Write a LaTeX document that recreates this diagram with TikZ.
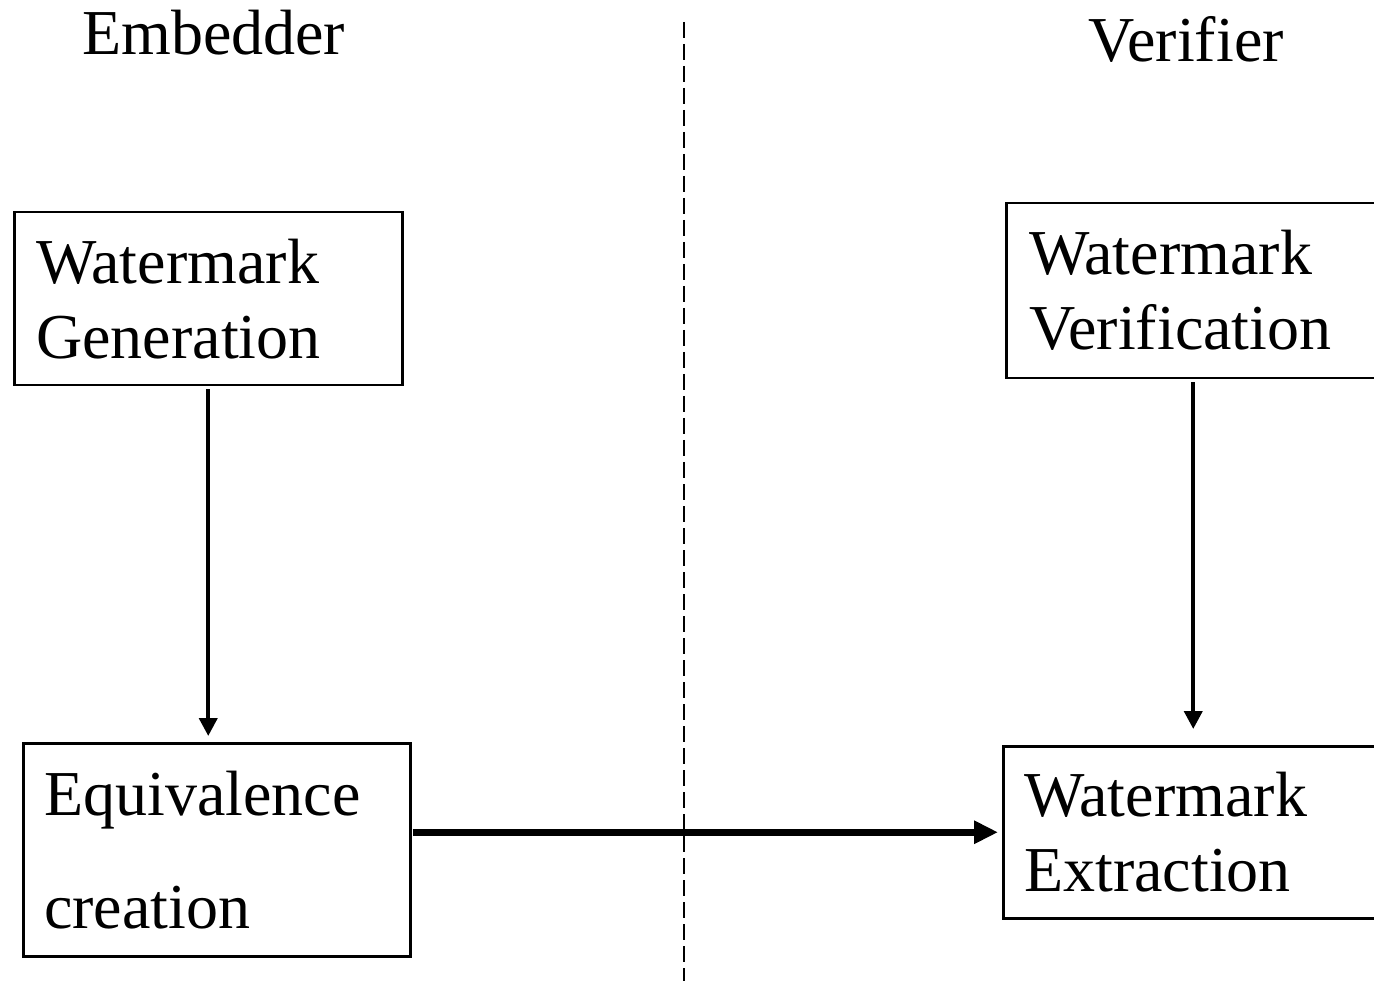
\documentclass[tikz,border=0pt]{standalone}
\usepackage{fontspec}
\setmainfont{Liberation Serif}
\usetikzlibrary{arrows.meta,calc}
\tikzset{
  stage/.style={draw, line width=2.5pt, anchor=north west, align=left,
    inner xsep=0pt, font=\fontsize{64}{75}\selectfont},
  title/.style={anchor=base west, inner sep=0pt, font=\fontsize{64}{75}\selectfont},
  flow/.style={line width=4pt, -{Triangle[length=18pt,width=18pt]}},
  bigflow/.style={line width=7pt, -{Triangle[length=24pt,width=22pt]}}
}
\begin{document}
\begin{tikzpicture}[x=1pt, y=-1pt]
    \useasboundingbox (0,0) rectangle (1374,981);
      % titles
      \node[title] (emb) at (82,55) {Embedder};
      \node[title] (ver) at (1088,62) {Verifier};
      % separator
      \coordinate (sepTop) at (684,22);
      \coordinate (sepBot) at (684,981);
      \draw[line width=2pt, dash pattern=on 16pt off 6pt] (sepTop) -- (sepBot);
      % boxes
      \node[stage, minimum width=388pt, minimum height=173pt, text width=344pt] (gen) at (13,211) {Watermark\\Generation};
      \node[stage, minimum width=387pt, minimum height=213pt, text width=345pt] (eqv) at (22,742) {Equivalence\\[38pt]creation};
      \node[stage, minimum width=374pt, minimum height=175pt, text width=328pt] (verif) at (1005,202) {Watermark\\Verification};
      \node[stage, minimum width=380pt, minimum height=172pt, text width=338pt] (ext) at (1002,745) {Watermark\\Extraction};
      % arrows
      \draw[flow, shorten <=3pt, shorten >=6pt] (gen.south) -- (gen.south |- eqv.north);
      \draw[flow, shorten <=3pt, shorten >=16pt] (verif.south) -- (ext.north);
      \draw[bigflow, shorten <=1pt, shorten >=4pt] (eqv.east |- ext.west) -- (ext.west);
\end{tikzpicture}
\end{document}
